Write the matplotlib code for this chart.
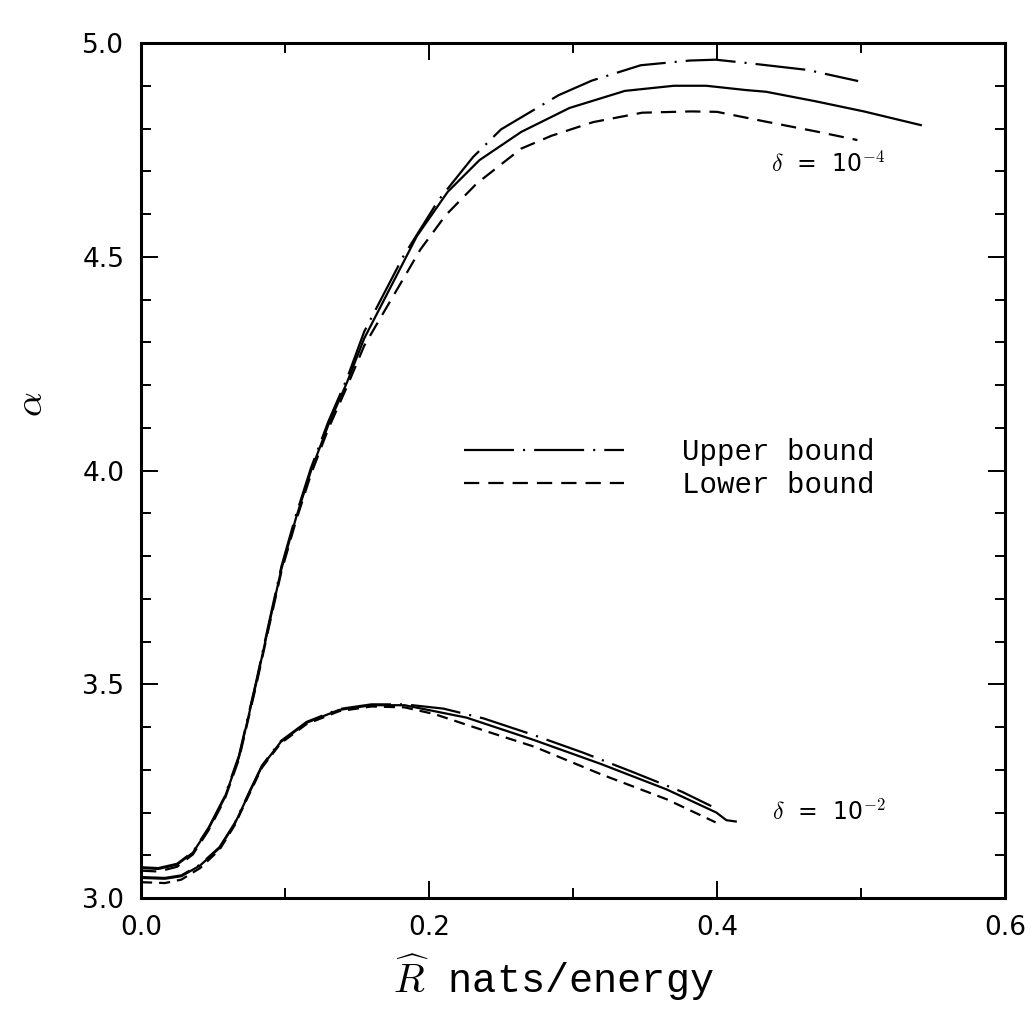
import matplotlib
matplotlib.use("Agg")
import matplotlib.pyplot as plt
from matplotlib.ticker import MultipleLocator

# ---------------- data ----------------
# delta = 1e-4 group
x4_upper = [0.0, 0.012, 0.025, 0.036, 0.047, 0.058, 0.068, 0.080, 0.0887, 0.0975, 0.1076, 0.118,
            0.130, 0.143, 0.155, 0.182, 0.2065, 0.2305, 0.250, 0.290, 0.313, 0.347, 0.381, 0.399,
            0.4215, 0.463, 0.479, 0.498]
a4_upper = [3.072, 3.070, 3.080, 3.108, 3.165, 3.237, 3.333, 3.507, 3.642, 3.776, 3.896, 4.006,
            4.114, 4.215, 4.325, 4.500, 4.632, 4.733, 4.798, 4.878, 4.912, 4.948, 4.959, 4.961,
            4.953, 4.937, 4.925, 4.911]

x4_mid = [0.0, 0.012, 0.025, 0.036, 0.047, 0.058, 0.068, 0.080, 0.0887, 0.0975, 0.1076, 0.118,
          0.130, 0.143, 0.155, 0.1915, 0.213, 0.235, 0.264, 0.2975, 0.336, 0.370, 0.3925, 0.420,
          0.434, 0.468, 0.502, 0.5415]
a4_mid = [3.070, 3.068, 3.078, 3.106, 3.163, 3.234, 3.329, 3.503, 3.637, 3.770, 3.889, 3.999,
          4.106, 4.206, 4.309, 4.548, 4.652, 4.726, 4.792, 4.848, 4.888, 4.900, 4.900, 4.890,
          4.886, 4.864, 4.840, 4.808]

x4_lower = [0.0, 0.012, 0.025, 0.036, 0.047, 0.058, 0.068, 0.080, 0.0887, 0.0975, 0.1076, 0.118,
            0.130, 0.143, 0.155, 0.194, 0.2115, 0.233, 0.264, 0.285, 0.314, 0.348, 0.382, 0.400,
            0.434, 0.469, 0.4975]
a4_lower = [3.064, 3.062, 3.073, 3.102, 3.159, 3.230, 3.325, 3.498, 3.632, 3.764, 3.882, 3.991,
            4.097, 4.196, 4.292, 4.517, 4.597, 4.671, 4.753, 4.783, 4.815, 4.837, 4.840, 4.839,
            4.816, 4.793, 4.773]

# delta = 1e-2 group
x2_upper = [0.0, 0.0166, 0.028, 0.041, 0.0545, 0.065, 0.076, 0.084, 0.097, 0.115, 0.1375, 0.160,
            0.183, 0.210, 0.238, 0.272, 0.307, 0.342, 0.376, 0.396]
a2_upper = [3.049, 3.047, 3.053, 3.078, 3.119, 3.175, 3.254, 3.310, 3.367, 3.412, 3.442, 3.453,
            3.453, 3.443, 3.420, 3.382, 3.340, 3.294, 3.248, 3.215]

x2_mid = [0.0, 0.0166, 0.028, 0.041, 0.0545, 0.065, 0.076, 0.084, 0.097, 0.115, 0.1375, 0.160,
          0.183, 0.226, 0.2725, 0.319, 0.365, 0.3995, 0.4065, 0.413]
a2_mid = [3.047, 3.045, 3.051, 3.076, 3.117, 3.173, 3.252, 3.308, 3.365, 3.410, 3.440, 3.451,
          3.451, 3.422, 3.370, 3.314, 3.254, 3.200, 3.182, 3.179]

x2_lower = [0.0, 0.0166, 0.028, 0.041, 0.0545, 0.065, 0.076, 0.084, 0.097, 0.115, 0.1375, 0.160,
            0.183, 0.204, 0.238, 0.273, 0.319, 0.365, 0.399]
a2_lower = [3.037, 3.035, 3.043, 3.070, 3.113, 3.170, 3.249, 3.305, 3.362, 3.407, 3.437, 3.448,
            3.446, 3.430, 3.392, 3.354, 3.290, 3.231, 3.177]

x_ticks = [0.0, 0.2, 0.4, 0.6]
x_ticklabels = ["0.0", "0.2", "0.4", "0.6"]
y_ticks = [3.0, 3.5, 4.0, 4.5, 5.0]
y_ticklabels = ["3.0", "3.5", "4.0", "4.5", "5.0"]
legend_labels = ["Upper bound", "Lower bound"]
delta_labels = [r"$\delta$  =  10$^{-4}$", r"$\delta$  =  10$^{-2}$"]

# ---------------- styling ----------------
plt.rcParams["lines.scale_dashes"] = False
plt.rcParams["mathtext.fontset"] = "cm"
DASHDOT = (0, (36, 6.5, 1.5, 6.5))
DASHED = (0, (11, 6.5))
DASHED_SHORT = (0, (8, 5))
LW = 1.6

fig = plt.figure(figsize=(10.31, 10.17), dpi=100)
ax = fig.add_axes([0.1368, 0.117, 0.838, 0.8407])

l_up, = ax.plot(x4_upper, a4_upper, color="black", lw=LW, linestyle=DASHDOT)
ax.plot(x4_mid, a4_mid, color="black", lw=LW, linestyle="-")
l_lo, = ax.plot(x4_lower, a4_lower, color="black", lw=LW, linestyle=DASHED)

ax.plot(x2_upper, a2_upper, color="black", lw=LW, linestyle=DASHDOT)
ax.plot(x2_mid, a2_mid, color="black", lw=LW, linestyle="-")
ax.plot(x2_lower, a2_lower, color="black", lw=LW, linestyle=DASHED_SHORT)

ax.set_xlim(0.0, 0.6)
ax.set_ylim(3.0, 5.0)

ax.set_xticks(x_ticks)
ax.set_xticklabels(x_ticklabels)
ax.set_yticks(y_ticks)
ax.set_yticklabels(y_ticklabels)
ax.xaxis.set_minor_locator(MultipleLocator(0.1))
ax.yaxis.set_minor_locator(MultipleLocator(0.1))

ax.tick_params(which="both", direction="in", top=True, right=True, color="black")
ax.tick_params(which="major", length=12, width=1.4, labelsize=19, pad=12)
ax.tick_params(which="minor", length=7, width=1.4)
for lab in ax.get_xticklabels() + ax.get_yticklabels():
    lab.set_family("DejaVu Sans")

for sp in ax.spines.values():
    sp.set_linewidth(2.2)
    sp.set_color("black")

ax.set_xlabel(r"$\widehat{R}$ nats/energy", fontsize=29, family="Liberation Mono")
ax.xaxis.set_label_coords(0.477, -0.063)
ax.set_ylabel(r"$\alpha$", fontsize=28, rotation=90)
ax.yaxis.set_label_coords(-0.105, 0.577)

ax.text(0.4375, 4.717, delta_labels[0], fontsize=17, ha="left", va="center",
        family="DejaVu Sans")
ax.text(0.438, 3.200, delta_labels[1], fontsize=17, ha="left", va="center",
        family="DejaVu Sans")

ax.legend([l_up, l_lo], legend_labels, loc="upper left",
          bbox_to_anchor=(0.224, 4.075), bbox_transform=ax.transData,
          frameon=False, borderpad=0, borderaxespad=0,
          handlelength=5.5, handletextpad=2.0, labelspacing=0.15,
          prop={"family": "Liberation Mono", "size": 21})

fig.savefig("out.png", dpi=100)
